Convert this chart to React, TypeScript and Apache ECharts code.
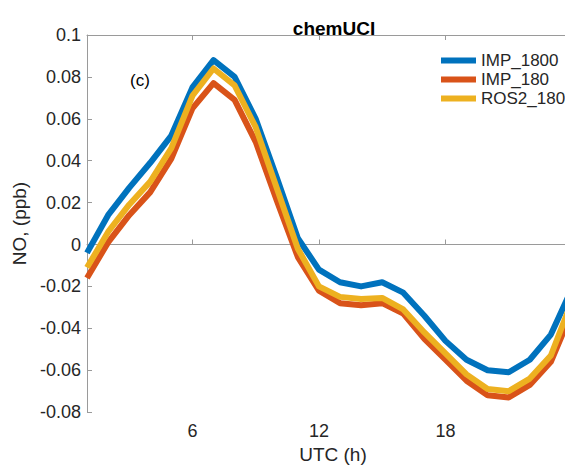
import React, { useEffect, useRef } from "react";
import * as echarts from "echarts";

const hours = [1, 2, 3, 4, 5, 6, 7, 8, 9, 10, 11, 12, 13, 14, 15, 16, 17, 18, 19, 20, 21, 22, 23, 24];
const imp1800 = [-0.004, 0.014, 0.027, 0.039, 0.052, 0.075, 0.088, 0.080, 0.060, 0.032, 0.003, -0.012, -0.018, -0.020, -0.018, -0.023, -0.034, -0.046, -0.055, -0.060, -0.061, -0.055, -0.043, -0.021];
const imp180 = [-0.016, 0.001, 0.014, 0.025, 0.041, 0.065, 0.077, 0.069, 0.049, 0.021, -0.006, -0.022, -0.028, -0.029, -0.028, -0.033, -0.045, -0.055, -0.065, -0.072, -0.073, -0.067, -0.056, -0.032];
const ros2180 = [-0.011, 0.006, 0.019, 0.030, 0.046, 0.071, 0.084, 0.076, 0.056, 0.027, -0.002, -0.020, -0.025, -0.026, -0.0255, -0.031, -0.042, -0.052, -0.062, -0.069, -0.070, -0.064, -0.053, -0.027];
const xTicks = [6, 12, 18];
const seriesNames = ["IMP_1800", "IMP_180", "ROS2_180"];
const colors = ["#0072BD", "#D95319", "#EDB120"];
// visible x-range: the plot is cropped at the right edge of the figure
const xMin = 1;
const xMaxVisible = 23.67;

const FONT = "Liberation Sans, Arial, sans-serif";
const TXT = "#262626";
const AXC = "#9a9a9a";

export default function App() {
  const ref = useRef<HTMLDivElement>(null);
  useEffect(() => {
    if (!ref.current) return;
    const chart = echarts.init(ref.current, null, { renderer: "svg" });
    const all = [imp1800, imp180, ros2180];
    const xCommon = {
      type: "value",
      min: xMin,
      max: xMaxVisible,
      splitLine: { show: false },
      axisLine: { show: true, lineStyle: { color: AXC, width: 1 } },
    };
    chart.setOption({
      animation: false,
      textStyle: { fontFamily: FONT },
      title: {
        text: "chemUCI",
        left: 329,
        textAlign: "center",
        top: 14,
        textStyle: { fontSize: 19, fontWeight: "bold", color: "#000", fontFamily: FONT },
      },
      legend: {
        orient: "vertical",
        left: 436,
        top: 47,
        icon: "rect",
        itemWidth: 35,
        itemHeight: 6,
        itemGap: 2,
        data: seriesNames,
        textStyle: { fontSize: 17, color: TXT, fontFamily: FONT, padding: [0, 0, 0, 0] },
      },
      grid: { left: 87, top: 35, bottom: 52, right: 0, containLabel: false },
      xAxis: [
        {
          ...xCommon,
          position: "bottom",
          name: "UTC (h)",
          nameLocation: "middle",
          nameGap: 31,
          nameTextStyle: { fontSize: 19, color: TXT, fontFamily: FONT, padding: [0, 0, 0, 14] },
          axisTick: { show: true, inside: true, length: 5, customValues: xTicks, lineStyle: { color: AXC } },
          axisLabel: {
            show: true,
            customValues: xTicks,
            fontSize: 18,
            color: TXT,
            margin: 10,
            fontFamily: FONT,
          },
        },
        {
          ...xCommon,
          position: "top",
          axisTick: { show: true, inside: true, length: 5, customValues: xTicks, lineStyle: { color: AXC } },
          axisLabel: { show: false },
        },
      ],
      yAxis: {
        type: "value",
        min: -0.08,
        max: 0.1,
        interval: 0.02,
        name: "NO, (ppb)",
        nameLocation: "middle",
        nameGap: 46,
        nameTextStyle: { fontSize: 19, color: TXT, fontFamily: FONT },
        splitLine: { show: false },
        axisLine: { show: true, lineStyle: { color: AXC, width: 1 } },
        axisTick: { show: true, inside: true, length: 5, lineStyle: { color: AXC } },
        axisLabel: {
          fontSize: 18,
          color: TXT,
          margin: 6,
          fontFamily: FONT,
          formatter: (v: number) => String(parseFloat(v.toFixed(3))),
        },
      },
      graphic: [
        {
          type: "text",
          left: 130,
          top: 72,
          style: { text: "(c)", fontSize: 17, fill: "#000", fontFamily: FONT },
        },
      ],
      series: seriesNames.map((name, i) => ({
        name,
        type: "line",
        xAxisIndex: 0,
        data: hours.map((h, k) => [h, all[i][k]]),
        showSymbol: false,
        symbol: "none",
        lineStyle: { width: 6, color: colors[i], join: "round" },
        itemStyle: { color: colors[i] },
        z: 2 + i,
      })),
    });
    return () => chart.dispose();
  }, []);
  return <div ref={ref} style={{ width: 565, height: 469, position: "absolute", left: 0, top: 0 }} />;
}
